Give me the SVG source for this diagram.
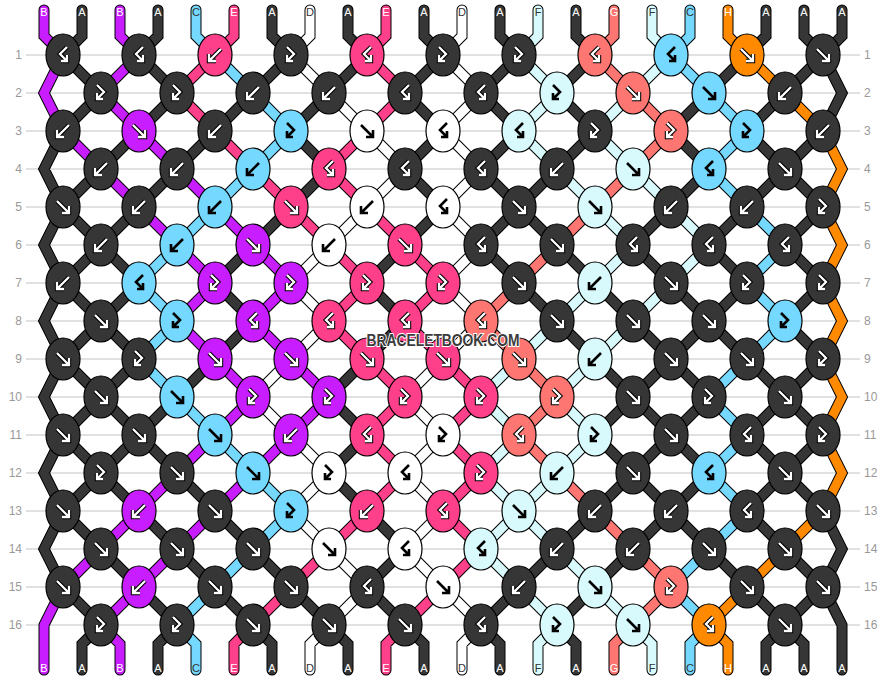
<svg xmlns="http://www.w3.org/2000/svg" width="886" height="680" viewBox="0 0 886 680">
<style>
.grid line{stroke:#c4c4c4;stroke-width:1}
.rl{font-family:"Liberation Sans",Arial,sans-serif;font-size:12px;fill:#999}
.rl.l{text-anchor:end}
.ol{fill:none;stroke:#000;stroke-width:11;stroke-linejoin:miter;stroke-linecap:round}
.s{fill:none;stroke-width:9;stroke-linejoin:miter;stroke-linecap:round}
.sA{stroke:#363636}.sB{stroke:#c81eff}.sC{stroke:#74d8ff}.sD{stroke:#fff}.sE{stroke:#fe3f8a}.sF{stroke:#d8fafc}.sG{stroke:#fd7672}.sH{stroke:#ff8a00}
.kn ellipse{stroke:#000;stroke-width:1.2}
.A{fill:#363636}.B{fill:#c81eff}.C{fill:#74d8ff}.D{fill:#fff}.E{fill:#fe3f8a}.F{fill:#d8fafc}.G{fill:#fd7672}.H{fill:#ff8a00}
.gl{fill:none;stroke-linejoin:miter;stroke-linecap:butt}
.wo{stroke:#000;stroke-width:4.4}
.wi{stroke:#fff;stroke-width:2.3}
.ki{stroke:#000;stroke-width:2.6}
.lb{font-family:"Liberation Sans",Arial,sans-serif;font-size:11px;text-anchor:middle}
.lw{fill:#fff}.lk{fill:#333}
</style>
<defs>
<path id="pF" d="M-6-6L6 6M-1 6H6V-1"/>
<path id="pB" d="M6-6L-6 6M1 6H-6V-1"/>
<path id="pFB" d="M-4-8L3-1L-4 6M2 6H-4V0"/>
<path id="pBF" d="M4-8L-3-1L4 6M-2 6H4V0"/>
<g id="wF" class="gl"><use href="#pF" class="wo"/><use href="#pF" class="wi"/></g>
<g id="wB" class="gl"><use href="#pB" class="wo"/><use href="#pB" class="wi"/></g>
<g id="wFB" class="gl"><use href="#pFB" class="wo"/><use href="#pFB" class="wi"/></g>
<g id="wBF" class="gl"><use href="#pBF" class="wo"/><use href="#pBF" class="wi"/></g>
<g id="kF" class="gl"><use href="#pF" class="ki"/></g>
<g id="kB" class="gl"><use href="#pB" class="ki"/></g>
<g id="kFB" class="gl"><use href="#pFB" class="ki"/></g>
<g id="kBF" class="gl"><use href="#pBF" class="ki"/></g>
<path id="cA" d="M63 55l38 38M139 55l38 38M291 55l-38 38M367 55l-38 38M443 55l-38 38M519 55l-38 38M595 55l-38 38M747 55l-38 38M823 55l-38 38
M101 93l-38 38M177 93l-38 38M253 93l-38 38M329 93l-38 38M405 93l38 38M481 93l38 38M557 93l38 38M709 93l-38 38M785 93l-38 38
M139 131l-38 38M215 131l-38 38M291 131l38 38M443 131l-38 38M519 131l-38 38M595 131l-38 38M671 131l38 38M747 131l38 38M823 131l-38 38
M101 169l-38 38M177 169l-38 38M329 169l-38 38M405 169l38 38M481 169l38 38M557 169l-38 38M709 169l-38 38M785 169l-38 38M785 169l38 38
M63 207l38 38M139 207l-38 38M291 207l-38 38M443 207l-38 38M519 207l-38 38M519 207l38 38M671 207l-38 38M747 207l-38 38M823 207l-38 38
M101 245l-38 38M101 245l38 38M253 245l-38 38M405 245l-38 38M481 245l38 38M557 245l38 38M633 245l38 38M709 245l38 38M785 245l38 38
M63 283l38 38M139 283l-38 38M215 283l38 38M367 283l38 38M519 283l38 38M595 283l38 38M671 283l38 38M747 283l-38 38M823 283l-38 38
M101 321l-38 38M101 321l38 38M253 321l-38 38M405 321l-38 38M557 321l38 38M633 321l38 38M709 321l-38 38M709 321l38 38M785 321l38 38
M63 359l38 38M139 359l-38 38M215 359l-38 38M367 359l-38 38M595 359l38 38M671 359l-38 38M671 359l38 38M747 359l38 38M823 359l-38 38
M101 397l-38 38M101 397l38 38M177 397l-38 38M329 397l38 38M633 397l-38 38M633 397l38 38M709 397l-38 38M785 397l-38 38M785 397l38 38
M63 435l38 38M139 435l-38 38M139 435l38 38M367 435l-38 38M595 435l38 38M671 435l-38 38M671 435l38 38M747 435l38 38M823 435l-38 38
M101 473l-38 38M101 473l38 38M177 473l38 38M329 473l38 38M633 473l-38 38M633 473l38 38M709 473l-38 38M785 473l-38 38M785 473l38 38
M63 511l38 38M139 511l38 38M215 511l38 38M367 511l38 38M595 511l-38 38M671 511l-38 38M671 511l38 38M747 511l38 38
M101 549l38 38M177 549l38 38M253 549l38 38M405 549l-38 38M557 549l-38 38M633 549l-38 38M709 549l38 38M785 549l38 38
M63 587l38 38M139 587l38 38M215 587l38 38M291 587l38 38M367 587l38 38M519 587l-38 38M595 587l-38 38M747 587l38 38M823 587l-38 38
M63 131L44 169L63 207L44 245L63 283L44 321L63 359L44 397L63 435L44 473L63 511L44 549L63 587
M823 55L842 93L823 131M823 511L842 549L823 587L842 625V670
M82 10V36L63 55M158 10V36L139 55M272 10V36L291 55M348 10V36L367 55M424 10V36L443 55M500 10V36L519 55M576 10V36L595 55M766 10V36L747 55M804 10V36L823 55M842 10V36L823 55
M101 625L82 644V670M177 625L158 644V670M253 625L272 644V670M329 625L348 644V670M405 625L424 644V670M481 625L500 644V670M557 625L576 644V670M785 625L766 644V670M785 625L804 644V670"/>
<path id="cB" d="M139 55l-38 38M101 93l38 38M63 131l38 38M139 131l38 38M101 169l38 38M177 169l38 38M139 207l38 38M215 207l38 38M177 245l38 38M253 245l38 38M215 283l-38 38M291 283l-38 38M177 321l38 38M253 321l38 38M215 359l38 38M291 359l38 38M253 397l-38 38M329 397l-38 38M215 435l-38 38M291 435l-38 38M177 473l-38 38M253 473l-38 38M139 511l-38 38M215 511l-38 38M101 549l-38 38M177 549l-38 38M139 587l-38 38
M63 55L44 93L63 131M63 587L44 625V670M44 10V36L63 55M120 10V36L139 55M101 625L120 644V670"/>
<path id="cC" d="M215 55l38 38M671 55l38 38M253 93l38 38M709 93l38 38M291 131l-38 38M747 131l-38 38M253 169l-38 38M709 169l38 38M215 207l-38 38M747 207l38 38M177 245l-38 38M785 245l-38 38M139 283l38 38M747 283l38 38M177 321l-38 38M785 321l-38 38M139 359l38 38M747 359l-38 38M177 397l38 38M709 397l38 38M215 435l38 38M747 435l-38 38M253 473l38 38M709 473l38 38M291 511l-38 38M747 511l-38 38M253 549l-38 38M709 549l-38 38M215 587l-38 38M671 587l38 38
M196 10V36L215 55M690 10V36L671 55M177 625L196 644V670M709 625L690 644V670"/>
<path id="cD" d="M291 55l38 38M443 55l38 38M329 93l38 38M481 93l-38 38M367 131l38 38M443 131l38 38M405 169l-38 38M481 169l-38 38M367 207l-38 38M443 207l38 38M329 245l-38 38M481 245l-38 38M291 283l38 38M443 283l38 38M329 321l-38 38M481 321l-38 38M291 359l-38 38M443 359l-38 38M253 397l38 38M405 397l38 38M291 435l38 38M443 435l-38 38M329 473l-38 38M405 473l38 38M291 511l38 38M443 511l-38 38M329 549l38 38M405 549l38 38M367 587l-38 38M443 587l38 38
M310 10V36L291 55M462 10V36L443 55M329 625L310 644V670M481 625L462 644V670"/>
<path id="cE" d="M215 55l-38 38M367 55l38 38M177 93l38 38M405 93l-38 38M215 131l38 38M367 131l-38 38M253 169l38 38M329 169l38 38M291 207l38 38M367 207l38 38M329 245l38 38M405 245l38 38M367 283l-38 38M443 283l-38 38M329 321l38 38M405 321l38 38M367 359l38 38M443 359l38 38M405 397l-38 38M481 397l-38 38M367 435l38 38M443 435l38 38M405 473l-38 38M481 473l-38 38M367 511l-38 38M443 511l38 38M329 549l-38 38M481 549l-38 38M291 587l-38 38M443 587l-38 38
M234 10V36L215 55M386 10V36L367 55M253 625L234 644V670M405 625L386 644V670"/>
<path id="cF" d="M519 55l38 38M671 55l-38 38M557 93l-38 38M633 93l-38 38M519 131l38 38M595 131l38 38M557 169l38 38M633 169l38 38M595 207l38 38M671 207l38 38M633 245l-38 38M709 245l-38 38M595 283l-38 38M671 283l-38 38M557 321l-38 38M633 321l-38 38M519 359l-38 38M595 359l-38 38M481 397l38 38M557 397l38 38M519 435l-38 38M595 435l-38 38M481 473l38 38M557 473l-38 38M519 511l-38 38M519 511l38 38M481 549l38 38M557 549l38 38M519 587l38 38M595 587l38 38
M538 10V36L519 55M652 10V36L671 55M557 625L538 644V670M633 625L652 644V670"/>
<path id="cG" d="M614 10V36L595 55L633 93L671 131L633 169L595 207L557 245L519 283L481 321L519 359L557 397L519 435L557 473L595 511L633 549L671 587L633 625L614 644V670"/>
<path id="cH" d="M728 10V36L747 55L785 93L823 131L842 169L823 207L842 245L823 283L842 321L823 359L842 397L823 435L842 473L823 511L785 549L747 587L709 625L728 644V670"/>
</defs>
<rect width="886" height="680" fill="#fff"/>
<g class="grid">
<line x1="26" x2="860" y1="55" y2="55"/><line x1="26" x2="860" y1="93" y2="93"/><line x1="26" x2="860" y1="131" y2="131"/><line x1="26" x2="860" y1="169" y2="169"/><line x1="26" x2="860" y1="207" y2="207"/><line x1="26" x2="860" y1="245" y2="245"/><line x1="26" x2="860" y1="283" y2="283"/><line x1="26" x2="860" y1="321" y2="321"/><line x1="26" x2="860" y1="359" y2="359"/><line x1="26" x2="860" y1="397" y2="397"/><line x1="26" x2="860" y1="435" y2="435"/><line x1="26" x2="860" y1="473" y2="473"/><line x1="26" x2="860" y1="511" y2="511"/><line x1="26" x2="860" y1="549" y2="549"/><line x1="26" x2="860" y1="587" y2="587"/><line x1="26" x2="860" y1="625" y2="625"/>
</g>
<g id="row-labels">
<text class="rl l" x="22" y="59">1</text><text class="rl l" x="22" y="97">2</text><text class="rl l" x="22" y="135">3</text><text class="rl l" x="22" y="173">4</text><text class="rl l" x="22" y="211">5</text><text class="rl l" x="22" y="249">6</text><text class="rl l" x="22" y="287">7</text><text class="rl l" x="22" y="325">8</text><text class="rl l" x="22" y="363">9</text><text class="rl l" x="22" y="401">10</text><text class="rl l" x="22" y="439">11</text><text class="rl l" x="22" y="477">12</text><text class="rl l" x="22" y="515">13</text><text class="rl l" x="22" y="553">14</text><text class="rl l" x="22" y="591">15</text><text class="rl l" x="22" y="629">16</text>
<text class="rl" x="864" y="59">1</text><text class="rl" x="864" y="97">2</text><text class="rl" x="864" y="135">3</text><text class="rl" x="864" y="173">4</text><text class="rl" x="864" y="211">5</text><text class="rl" x="864" y="249">6</text><text class="rl" x="864" y="287">7</text><text class="rl" x="864" y="325">8</text><text class="rl" x="864" y="363">9</text><text class="rl" x="864" y="401">10</text><text class="rl" x="864" y="439">11</text><text class="rl" x="864" y="477">12</text><text class="rl" x="864" y="515">13</text><text class="rl" x="864" y="553">14</text><text class="rl" x="864" y="591">15</text><text class="rl" x="864" y="629">16</text>
</g>
<g id="connectors">
<use href="#cA" class="ol"/><use href="#cB" class="ol"/><use href="#cC" class="ol"/><use href="#cD" class="ol"/><use href="#cE" class="ol"/><use href="#cF" class="ol"/><use href="#cG" class="ol"/><use href="#cH" class="ol"/>
<use href="#cA" class="s sA"/><use href="#cB" class="s sB"/><use href="#cC" class="s sC"/><use href="#cD" class="s sD"/><use href="#cE" class="s sE"/><use href="#cF" class="s sF"/><use href="#cG" class="s sG"/><use href="#cH" class="s sH"/>
</g>
<g id="string-labels" class="lb">
<text class="lw" x="44" y="16">B</text><text class="lw" x="82" y="16">A</text><text class="lw" x="120" y="16">B</text><text class="lw" x="158" y="16">A</text><text class="lk" x="196" y="16">C</text><text class="lw" x="234" y="16">E</text><text class="lw" x="272" y="16">A</text><text class="lk" x="310" y="16">D</text><text class="lw" x="348" y="16">A</text><text class="lw" x="386" y="16">E</text><text class="lw" x="424" y="16">A</text><text class="lk" x="462" y="16">D</text><text class="lw" x="500" y="16">A</text><text class="lk" x="538" y="16">F</text><text class="lw" x="576" y="16">A</text><text class="lw" x="614" y="16">G</text><text class="lk" x="652" y="16">F</text><text class="lk" x="690" y="16">C</text><text class="lw" x="728" y="16">H</text><text class="lw" x="766" y="16">A</text><text class="lw" x="804" y="16">A</text><text class="lw" x="842" y="16">A</text>
<text class="lw" x="44" y="672">B</text><text class="lw" x="82" y="672">A</text><text class="lw" x="120" y="672">B</text><text class="lw" x="158" y="672">A</text><text class="lk" x="196" y="672">C</text><text class="lw" x="234" y="672">E</text><text class="lw" x="272" y="672">A</text><text class="lk" x="310" y="672">D</text><text class="lw" x="348" y="672">A</text><text class="lw" x="386" y="672">E</text><text class="lw" x="424" y="672">A</text><text class="lk" x="462" y="672">D</text><text class="lw" x="500" y="672">A</text><text class="lk" x="538" y="672">F</text><text class="lw" x="576" y="672">A</text><text class="lw" x="614" y="672">G</text><text class="lk" x="652" y="672">F</text><text class="lk" x="690" y="672">C</text><text class="lw" x="728" y="672">H</text><text class="lw" x="766" y="672">A</text><text class="lw" x="804" y="672">A</text><text class="lw" x="842" y="672">A</text>
</g>
<g id="knots" class="kn">
<g id="k1-1"><ellipse class="A" cx="63" cy="55" rx="17" ry="21"/><use href="#wBF" x="63" y="55"/></g>
<g id="k1-2"><ellipse class="A" cx="139" cy="55" rx="17" ry="21"/><use href="#wBF" x="139" y="55"/></g>
<g id="k1-3"><ellipse class="E" cx="215" cy="55" rx="17" ry="21"/><use href="#wB" x="215" y="55"/></g>
<g id="k1-4"><ellipse class="A" cx="291" cy="55" rx="17" ry="21"/><use href="#wFB" x="291" y="55"/></g>
<g id="k1-5"><ellipse class="E" cx="367" cy="55" rx="17" ry="21"/><use href="#wBF" x="367" y="55"/></g>
<g id="k1-6"><ellipse class="A" cx="443" cy="55" rx="17" ry="21"/><use href="#wFB" x="443" y="55"/></g>
<g id="k1-7"><ellipse class="A" cx="519" cy="55" rx="17" ry="21"/><use href="#wFB" x="519" y="55"/></g>
<g id="k1-8"><ellipse class="G" cx="595" cy="55" rx="17" ry="21"/><use href="#wBF" x="595" y="55"/></g>
<g id="k1-9"><ellipse class="C" cx="671" cy="55" rx="17" ry="21"/><use href="#kBF" x="671" y="55"/></g>
<g id="k1-10"><ellipse class="H" cx="747" cy="55" rx="17" ry="21"/><use href="#wF" x="747" y="55"/></g>
<g id="k1-11"><ellipse class="A" cx="823" cy="55" rx="17" ry="21"/><use href="#wF" x="823" y="55"/></g>
<g id="k2-1"><ellipse class="A" cx="101" cy="93" rx="17" ry="21"/><use href="#wFB" x="101" y="93"/></g>
<g id="k2-2"><ellipse class="A" cx="177" cy="93" rx="17" ry="21"/><use href="#wFB" x="177" y="93"/></g>
<g id="k2-3"><ellipse class="A" cx="253" cy="93" rx="17" ry="21"/><use href="#wB" x="253" y="93"/></g>
<g id="k2-4"><ellipse class="A" cx="329" cy="93" rx="17" ry="21"/><use href="#wB" x="329" y="93"/></g>
<g id="k2-5"><ellipse class="A" cx="405" cy="93" rx="17" ry="21"/><use href="#wBF" x="405" y="93"/></g>
<g id="k2-6"><ellipse class="A" cx="481" cy="93" rx="17" ry="21"/><use href="#wBF" x="481" y="93"/></g>
<g id="k2-7"><ellipse class="F" cx="557" cy="93" rx="17" ry="21"/><use href="#kFB" x="557" y="93"/></g>
<g id="k2-8"><ellipse class="G" cx="633" cy="93" rx="17" ry="21"/><use href="#wF" x="633" y="93"/></g>
<g id="k2-9"><ellipse class="C" cx="709" cy="93" rx="17" ry="21"/><use href="#kF" x="709" y="93"/></g>
<g id="k2-10"><ellipse class="A" cx="785" cy="93" rx="17" ry="21"/><use href="#wB" x="785" y="93"/></g>
<g id="k3-1"><ellipse class="A" cx="63" cy="131" rx="17" ry="21"/><use href="#wB" x="63" y="131"/></g>
<g id="k3-2"><ellipse class="B" cx="139" cy="131" rx="17" ry="21"/><use href="#wF" x="139" y="131"/></g>
<g id="k3-3"><ellipse class="A" cx="215" cy="131" rx="17" ry="21"/><use href="#wB" x="215" y="131"/></g>
<g id="k3-4"><ellipse class="C" cx="291" cy="131" rx="17" ry="21"/><use href="#kFB" x="291" y="131"/></g>
<g id="k3-5"><ellipse class="D" cx="367" cy="131" rx="17" ry="21"/><use href="#kF" x="367" y="131"/></g>
<g id="k3-6"><ellipse class="D" cx="443" cy="131" rx="17" ry="21"/><use href="#kBF" x="443" y="131"/></g>
<g id="k3-7"><ellipse class="F" cx="519" cy="131" rx="17" ry="21"/><use href="#kBF" x="519" y="131"/></g>
<g id="k3-8"><ellipse class="A" cx="595" cy="131" rx="17" ry="21"/><use href="#wFB" x="595" y="131"/></g>
<g id="k3-9"><ellipse class="G" cx="671" cy="131" rx="17" ry="21"/><use href="#wFB" x="671" y="131"/></g>
<g id="k3-10"><ellipse class="C" cx="747" cy="131" rx="17" ry="21"/><use href="#kFB" x="747" y="131"/></g>
<g id="k3-11"><ellipse class="A" cx="823" cy="131" rx="17" ry="21"/><use href="#wB" x="823" y="131"/></g>
<g id="k4-1"><ellipse class="A" cx="101" cy="169" rx="17" ry="21"/><use href="#wB" x="101" y="169"/></g>
<g id="k4-2"><ellipse class="A" cx="177" cy="169" rx="17" ry="21"/><use href="#wB" x="177" y="169"/></g>
<g id="k4-3"><ellipse class="C" cx="253" cy="169" rx="17" ry="21"/><use href="#kB" x="253" y="169"/></g>
<g id="k4-4"><ellipse class="E" cx="329" cy="169" rx="17" ry="21"/><use href="#wBF" x="329" y="169"/></g>
<g id="k4-5"><ellipse class="A" cx="405" cy="169" rx="17" ry="21"/><use href="#wBF" x="405" y="169"/></g>
<g id="k4-6"><ellipse class="A" cx="481" cy="169" rx="17" ry="21"/><use href="#wBF" x="481" y="169"/></g>
<g id="k4-7"><ellipse class="A" cx="557" cy="169" rx="17" ry="21"/><use href="#wB" x="557" y="169"/></g>
<g id="k4-8"><ellipse class="F" cx="633" cy="169" rx="17" ry="21"/><use href="#kF" x="633" y="169"/></g>
<g id="k4-9"><ellipse class="C" cx="709" cy="169" rx="17" ry="21"/><use href="#kBF" x="709" y="169"/></g>
<g id="k4-10"><ellipse class="A" cx="785" cy="169" rx="17" ry="21"/><use href="#wF" x="785" y="169"/></g>
<g id="k5-1"><ellipse class="A" cx="63" cy="207" rx="17" ry="21"/><use href="#wF" x="63" y="207"/></g>
<g id="k5-2"><ellipse class="A" cx="139" cy="207" rx="17" ry="21"/><use href="#wB" x="139" y="207"/></g>
<g id="k5-3"><ellipse class="C" cx="215" cy="207" rx="17" ry="21"/><use href="#kB" x="215" y="207"/></g>
<g id="k5-4"><ellipse class="E" cx="291" cy="207" rx="17" ry="21"/><use href="#wF" x="291" y="207"/></g>
<g id="k5-5"><ellipse class="D" cx="367" cy="207" rx="17" ry="21"/><use href="#kB" x="367" y="207"/></g>
<g id="k5-6"><ellipse class="D" cx="443" cy="207" rx="17" ry="21"/><use href="#kBF" x="443" y="207"/></g>
<g id="k5-7"><ellipse class="A" cx="519" cy="207" rx="17" ry="21"/><use href="#wF" x="519" y="207"/></g>
<g id="k5-8"><ellipse class="F" cx="595" cy="207" rx="17" ry="21"/><use href="#kF" x="595" y="207"/></g>
<g id="k5-9"><ellipse class="A" cx="671" cy="207" rx="17" ry="21"/><use href="#wB" x="671" y="207"/></g>
<g id="k5-10"><ellipse class="A" cx="747" cy="207" rx="17" ry="21"/><use href="#wB" x="747" y="207"/></g>
<g id="k5-11"><ellipse class="A" cx="823" cy="207" rx="17" ry="21"/><use href="#wFB" x="823" y="207"/></g>
<g id="k6-1"><ellipse class="A" cx="101" cy="245" rx="17" ry="21"/><use href="#wB" x="101" y="245"/></g>
<g id="k6-2"><ellipse class="C" cx="177" cy="245" rx="17" ry="21"/><use href="#kB" x="177" y="245"/></g>
<g id="k6-3"><ellipse class="B" cx="253" cy="245" rx="17" ry="21"/><use href="#wF" x="253" y="245"/></g>
<g id="k6-4"><ellipse class="D" cx="329" cy="245" rx="17" ry="21"/><use href="#kB" x="329" y="245"/></g>
<g id="k6-5"><ellipse class="E" cx="405" cy="245" rx="17" ry="21"/><use href="#wF" x="405" y="245"/></g>
<g id="k6-6"><ellipse class="A" cx="481" cy="245" rx="17" ry="21"/><use href="#wBF" x="481" y="245"/></g>
<g id="k6-7"><ellipse class="A" cx="557" cy="245" rx="17" ry="21"/><use href="#wF" x="557" y="245"/></g>
<g id="k6-8"><ellipse class="A" cx="633" cy="245" rx="17" ry="21"/><use href="#wBF" x="633" y="245"/></g>
<g id="k6-9"><ellipse class="A" cx="709" cy="245" rx="17" ry="21"/><use href="#wBF" x="709" y="245"/></g>
<g id="k6-10"><ellipse class="A" cx="785" cy="245" rx="17" ry="21"/><use href="#wBF" x="785" y="245"/></g>
<g id="k7-1"><ellipse class="A" cx="63" cy="283" rx="17" ry="21"/><use href="#wB" x="63" y="283"/></g>
<g id="k7-2"><ellipse class="C" cx="139" cy="283" rx="17" ry="21"/><use href="#kBF" x="139" y="283"/></g>
<g id="k7-3"><ellipse class="B" cx="215" cy="283" rx="17" ry="21"/><use href="#wFB" x="215" y="283"/></g>
<g id="k7-4"><ellipse class="B" cx="291" cy="283" rx="17" ry="21"/><use href="#wFB" x="291" y="283"/></g>
<g id="k7-5"><ellipse class="E" cx="367" cy="283" rx="17" ry="21"/><use href="#wFB" x="367" y="283"/></g>
<g id="k7-6"><ellipse class="E" cx="443" cy="283" rx="17" ry="21"/><use href="#wFB" x="443" y="283"/></g>
<g id="k7-7"><ellipse class="A" cx="519" cy="283" rx="17" ry="21"/><use href="#wF" x="519" y="283"/></g>
<g id="k7-8"><ellipse class="F" cx="595" cy="283" rx="17" ry="21"/><use href="#kB" x="595" y="283"/></g>
<g id="k7-9"><ellipse class="A" cx="671" cy="283" rx="17" ry="21"/><use href="#wF" x="671" y="283"/></g>
<g id="k7-10"><ellipse class="A" cx="747" cy="283" rx="17" ry="21"/><use href="#wFB" x="747" y="283"/></g>
<g id="k7-11"><ellipse class="A" cx="823" cy="283" rx="17" ry="21"/><use href="#wFB" x="823" y="283"/></g>
<g id="k8-1"><ellipse class="A" cx="101" cy="321" rx="17" ry="21"/><use href="#wF" x="101" y="321"/></g>
<g id="k8-2"><ellipse class="C" cx="177" cy="321" rx="17" ry="21"/><use href="#kFB" x="177" y="321"/></g>
<g id="k8-3"><ellipse class="B" cx="253" cy="321" rx="17" ry="21"/><use href="#wBF" x="253" y="321"/></g>
<g id="k8-4"><ellipse class="E" cx="329" cy="321" rx="17" ry="21"/><use href="#wBF" x="329" y="321"/></g>
<g id="k8-5"><ellipse class="E" cx="405" cy="321" rx="17" ry="21"/><use href="#wBF" x="405" y="321"/></g>
<g id="k8-6"><ellipse class="G" cx="481" cy="321" rx="17" ry="21"/><use href="#wBF" x="481" y="321"/></g>
<g id="k8-7"><ellipse class="A" cx="557" cy="321" rx="17" ry="21"/><use href="#wF" x="557" y="321"/></g>
<g id="k8-8"><ellipse class="A" cx="633" cy="321" rx="17" ry="21"/><use href="#wF" x="633" y="321"/></g>
<g id="k8-9"><ellipse class="A" cx="709" cy="321" rx="17" ry="21"/><use href="#wF" x="709" y="321"/></g>
<g id="k8-10"><ellipse class="C" cx="785" cy="321" rx="17" ry="21"/><use href="#kFB" x="785" y="321"/></g>
<g id="k9-1"><ellipse class="A" cx="63" cy="359" rx="17" ry="21"/><use href="#wF" x="63" y="359"/></g>
<g id="k9-2"><ellipse class="A" cx="139" cy="359" rx="17" ry="21"/><use href="#wFB" x="139" y="359"/></g>
<g id="k9-3"><ellipse class="B" cx="215" cy="359" rx="17" ry="21"/><use href="#wF" x="215" y="359"/></g>
<g id="k9-4"><ellipse class="B" cx="291" cy="359" rx="17" ry="21"/><use href="#wF" x="291" y="359"/></g>
<g id="k9-5"><ellipse class="E" cx="367" cy="359" rx="17" ry="21"/><use href="#wF" x="367" y="359"/></g>
<g id="k9-6"><ellipse class="E" cx="443" cy="359" rx="17" ry="21"/><use href="#wF" x="443" y="359"/></g>
<g id="k9-7"><ellipse class="G" cx="519" cy="359" rx="17" ry="21"/><use href="#wF" x="519" y="359"/></g>
<g id="k9-8"><ellipse class="F" cx="595" cy="359" rx="17" ry="21"/><use href="#kB" x="595" y="359"/></g>
<g id="k9-9"><ellipse class="A" cx="671" cy="359" rx="17" ry="21"/><use href="#wF" x="671" y="359"/></g>
<g id="k9-10"><ellipse class="A" cx="747" cy="359" rx="17" ry="21"/><use href="#wF" x="747" y="359"/></g>
<g id="k9-11"><ellipse class="A" cx="823" cy="359" rx="17" ry="21"/><use href="#wFB" x="823" y="359"/></g>
<g id="k10-1"><ellipse class="A" cx="101" cy="397" rx="17" ry="21"/><use href="#wF" x="101" y="397"/></g>
<g id="k10-2"><ellipse class="C" cx="177" cy="397" rx="17" ry="21"/><use href="#kF" x="177" y="397"/></g>
<g id="k10-3"><ellipse class="B" cx="253" cy="397" rx="17" ry="21"/><use href="#wFB" x="253" y="397"/></g>
<g id="k10-4"><ellipse class="B" cx="329" cy="397" rx="17" ry="21"/><use href="#wFB" x="329" y="397"/></g>
<g id="k10-5"><ellipse class="E" cx="405" cy="397" rx="17" ry="21"/><use href="#wFB" x="405" y="397"/></g>
<g id="k10-6"><ellipse class="E" cx="481" cy="397" rx="17" ry="21"/><use href="#wFB" x="481" y="397"/></g>
<g id="k10-7"><ellipse class="G" cx="557" cy="397" rx="17" ry="21"/><use href="#wFB" x="557" y="397"/></g>
<g id="k10-8"><ellipse class="A" cx="633" cy="397" rx="17" ry="21"/><use href="#wF" x="633" y="397"/></g>
<g id="k10-9"><ellipse class="A" cx="709" cy="397" rx="17" ry="21"/><use href="#wFB" x="709" y="397"/></g>
<g id="k10-10"><ellipse class="A" cx="785" cy="397" rx="17" ry="21"/><use href="#wF" x="785" y="397"/></g>
<g id="k11-1"><ellipse class="A" cx="63" cy="435" rx="17" ry="21"/><use href="#wF" x="63" y="435"/></g>
<g id="k11-2"><ellipse class="A" cx="139" cy="435" rx="17" ry="21"/><use href="#wF" x="139" y="435"/></g>
<g id="k11-3"><ellipse class="C" cx="215" cy="435" rx="17" ry="21"/><use href="#kF" x="215" y="435"/></g>
<g id="k11-4"><ellipse class="B" cx="291" cy="435" rx="17" ry="21"/><use href="#wB" x="291" y="435"/></g>
<g id="k11-5"><ellipse class="E" cx="367" cy="435" rx="17" ry="21"/><use href="#wBF" x="367" y="435"/></g>
<g id="k11-6"><ellipse class="D" cx="443" cy="435" rx="17" ry="21"/><use href="#kFB" x="443" y="435"/></g>
<g id="k11-7"><ellipse class="G" cx="519" cy="435" rx="17" ry="21"/><use href="#wBF" x="519" y="435"/></g>
<g id="k11-8"><ellipse class="F" cx="595" cy="435" rx="17" ry="21"/><use href="#kFB" x="595" y="435"/></g>
<g id="k11-9"><ellipse class="A" cx="671" cy="435" rx="17" ry="21"/><use href="#wF" x="671" y="435"/></g>
<g id="k11-10"><ellipse class="A" cx="747" cy="435" rx="17" ry="21"/><use href="#wBF" x="747" y="435"/></g>
<g id="k11-11"><ellipse class="A" cx="823" cy="435" rx="17" ry="21"/><use href="#wFB" x="823" y="435"/></g>
<g id="k12-1"><ellipse class="A" cx="101" cy="473" rx="17" ry="21"/><use href="#wFB" x="101" y="473"/></g>
<g id="k12-2"><ellipse class="A" cx="177" cy="473" rx="17" ry="21"/><use href="#wF" x="177" y="473"/></g>
<g id="k12-3"><ellipse class="C" cx="253" cy="473" rx="17" ry="21"/><use href="#kF" x="253" y="473"/></g>
<g id="k12-4"><ellipse class="D" cx="329" cy="473" rx="17" ry="21"/><use href="#kFB" x="329" y="473"/></g>
<g id="k12-5"><ellipse class="D" cx="405" cy="473" rx="17" ry="21"/><use href="#kBF" x="405" y="473"/></g>
<g id="k12-6"><ellipse class="E" cx="481" cy="473" rx="17" ry="21"/><use href="#wFB" x="481" y="473"/></g>
<g id="k12-7"><ellipse class="F" cx="557" cy="473" rx="17" ry="21"/><use href="#kB" x="557" y="473"/></g>
<g id="k12-8"><ellipse class="A" cx="633" cy="473" rx="17" ry="21"/><use href="#wF" x="633" y="473"/></g>
<g id="k12-9"><ellipse class="C" cx="709" cy="473" rx="17" ry="21"/><use href="#kBF" x="709" y="473"/></g>
<g id="k12-10"><ellipse class="A" cx="785" cy="473" rx="17" ry="21"/><use href="#wF" x="785" y="473"/></g>
<g id="k13-1"><ellipse class="A" cx="63" cy="511" rx="17" ry="21"/><use href="#wF" x="63" y="511"/></g>
<g id="k13-2"><ellipse class="B" cx="139" cy="511" rx="17" ry="21"/><use href="#wB" x="139" y="511"/></g>
<g id="k13-3"><ellipse class="A" cx="215" cy="511" rx="17" ry="21"/><use href="#wF" x="215" y="511"/></g>
<g id="k13-4"><ellipse class="C" cx="291" cy="511" rx="17" ry="21"/><use href="#kFB" x="291" y="511"/></g>
<g id="k13-5"><ellipse class="E" cx="367" cy="511" rx="17" ry="21"/><use href="#wB" x="367" y="511"/></g>
<g id="k13-6"><ellipse class="E" cx="443" cy="511" rx="17" ry="21"/><use href="#wBF" x="443" y="511"/></g>
<g id="k13-7"><ellipse class="F" cx="519" cy="511" rx="17" ry="21"/><use href="#kF" x="519" y="511"/></g>
<g id="k13-8"><ellipse class="A" cx="595" cy="511" rx="17" ry="21"/><use href="#wB" x="595" y="511"/></g>
<g id="k13-9"><ellipse class="A" cx="671" cy="511" rx="17" ry="21"/><use href="#wB" x="671" y="511"/></g>
<g id="k13-10"><ellipse class="A" cx="747" cy="511" rx="17" ry="21"/><use href="#wBF" x="747" y="511"/></g>
<g id="k13-11"><ellipse class="A" cx="823" cy="511" rx="17" ry="21"/><use href="#wF" x="823" y="511"/></g>
<g id="k14-1"><ellipse class="A" cx="101" cy="549" rx="17" ry="21"/><use href="#wF" x="101" y="549"/></g>
<g id="k14-2"><ellipse class="A" cx="177" cy="549" rx="17" ry="21"/><use href="#wF" x="177" y="549"/></g>
<g id="k14-3"><ellipse class="A" cx="253" cy="549" rx="17" ry="21"/><use href="#wF" x="253" y="549"/></g>
<g id="k14-4"><ellipse class="D" cx="329" cy="549" rx="17" ry="21"/><use href="#kF" x="329" y="549"/></g>
<g id="k14-5"><ellipse class="D" cx="405" cy="549" rx="17" ry="21"/><use href="#kBF" x="405" y="549"/></g>
<g id="k14-6"><ellipse class="F" cx="481" cy="549" rx="17" ry="21"/><use href="#kBF" x="481" y="549"/></g>
<g id="k14-7"><ellipse class="A" cx="557" cy="549" rx="17" ry="21"/><use href="#wB" x="557" y="549"/></g>
<g id="k14-8"><ellipse class="A" cx="633" cy="549" rx="17" ry="21"/><use href="#wB" x="633" y="549"/></g>
<g id="k14-9"><ellipse class="A" cx="709" cy="549" rx="17" ry="21"/><use href="#wF" x="709" y="549"/></g>
<g id="k14-10"><ellipse class="A" cx="785" cy="549" rx="17" ry="21"/><use href="#wF" x="785" y="549"/></g>
<g id="k15-1"><ellipse class="A" cx="63" cy="587" rx="17" ry="21"/><use href="#wF" x="63" y="587"/></g>
<g id="k15-2"><ellipse class="B" cx="139" cy="587" rx="17" ry="21"/><use href="#wB" x="139" y="587"/></g>
<g id="k15-3"><ellipse class="A" cx="215" cy="587" rx="17" ry="21"/><use href="#wF" x="215" y="587"/></g>
<g id="k15-4"><ellipse class="A" cx="291" cy="587" rx="17" ry="21"/><use href="#wF" x="291" y="587"/></g>
<g id="k15-5"><ellipse class="A" cx="367" cy="587" rx="17" ry="21"/><use href="#wBF" x="367" y="587"/></g>
<g id="k15-6"><ellipse class="D" cx="443" cy="587" rx="17" ry="21"/><use href="#kF" x="443" y="587"/></g>
<g id="k15-7"><ellipse class="A" cx="519" cy="587" rx="17" ry="21"/><use href="#wB" x="519" y="587"/></g>
<g id="k15-8"><ellipse class="F" cx="595" cy="587" rx="17" ry="21"/><use href="#kF" x="595" y="587"/></g>
<g id="k15-9"><ellipse class="G" cx="671" cy="587" rx="17" ry="21"/><use href="#wFB" x="671" y="587"/></g>
<g id="k15-10"><ellipse class="A" cx="747" cy="587" rx="17" ry="21"/><use href="#wF" x="747" y="587"/></g>
<g id="k15-11"><ellipse class="A" cx="823" cy="587" rx="17" ry="21"/><use href="#wF" x="823" y="587"/></g>
<g id="k16-1"><ellipse class="A" cx="101" cy="625" rx="17" ry="21"/><use href="#wFB" x="101" y="625"/></g>
<g id="k16-2"><ellipse class="A" cx="177" cy="625" rx="17" ry="21"/><use href="#wFB" x="177" y="625"/></g>
<g id="k16-3"><ellipse class="A" cx="253" cy="625" rx="17" ry="21"/><use href="#wF" x="253" y="625"/></g>
<g id="k16-4"><ellipse class="A" cx="329" cy="625" rx="17" ry="21"/><use href="#wF" x="329" y="625"/></g>
<g id="k16-5"><ellipse class="A" cx="405" cy="625" rx="17" ry="21"/><use href="#wF" x="405" y="625"/></g>
<g id="k16-6"><ellipse class="A" cx="481" cy="625" rx="17" ry="21"/><use href="#wBF" x="481" y="625"/></g>
<g id="k16-7"><ellipse class="F" cx="557" cy="625" rx="17" ry="21"/><use href="#kFB" x="557" y="625"/></g>
<g id="k16-8"><ellipse class="F" cx="633" cy="625" rx="17" ry="21"/><use href="#kF" x="633" y="625"/></g>
<g id="k16-9"><ellipse class="H" cx="709" cy="625" rx="17" ry="21"/><use href="#wBF" x="709" y="625"/></g>
<g id="k16-10"><ellipse class="A" cx="785" cy="625" rx="17" ry="21"/><use href="#wF" x="785" y="625"/></g>
</g>
<text id="watermark" x="443" y="346" font-family="Liberation Sans, Arial, sans-serif" font-weight="bold" font-size="16.5" text-anchor="middle" textLength="153" lengthAdjust="spacingAndGlyphs" fill="#3c3c3c" stroke="#fff" stroke-width="2" paint-order="stroke">BRACELETBOOK.COM</text>
</svg>
